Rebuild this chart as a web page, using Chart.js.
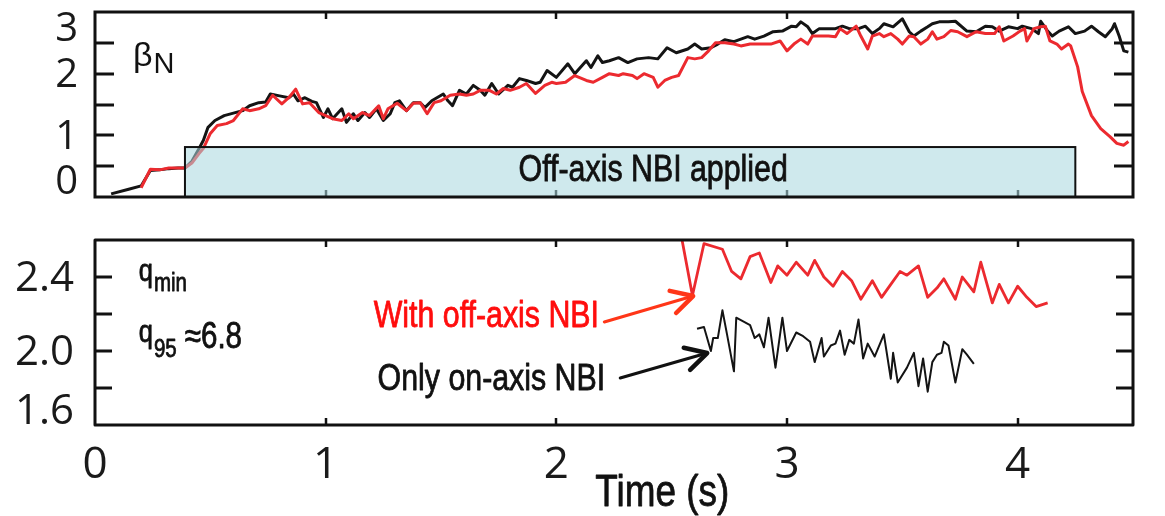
<!DOCTYPE html>
<html lang="en">
<head>
<meta charset="UTF-8">
<title>beta_N and q_min vs time</title>
<script src="https://cdn.jsdelivr.net/npm/chart.js@4.4.1/dist/chart.umd.min.js"></script>
<style>
    body { margin: 0; background: #fff; }
    #wrap { position: relative; width: 1165px; height: 516px; }
    canvas { position: absolute; left: 0; }
    #topChart { top: 0; }
    #botChart { top: 210px; }
</style>
</head>
<body>
<div id="wrap">
    <canvas id="topChart" width="1165" height="210"></canvas>
    <canvas id="botChart" width="1165" height="306"></canvas>
</div>
<script>

// time axis (s)
var X_MIN = 0, X_MAX = 4.5
var X_TICKS = [0, 1, 2, 3, 4]

// ---------- beta_N panel ----------
var BETA_MIN = 0, BETA_MAX = 3
var BETA_LABELS = [0, 1, 2, 3]
var BETA_MARKS = [0.5, 1, 1.5, 2, 2.5]

// only on-axis NBI (black)
var tBlack = [0.07, 0.15, 0.20, 0.24, 0.28, 0.32, 0.36, 0.39, 0.42, 0.45, 0.47, 0.49, 0.52, 0.56, 0.60, 0.64, 0.67, 0.71, 0.74, 0.76,
    0.80, 0.84, 0.86, 0.88, 0.91, 0.94, 0.96, 0.99, 1.01, 1.03, 1.07, 1.09, 1.12, 1.14, 1.17, 1.19, 1.22, 1.25, 1.28, 1.30,
    1.32, 1.35, 1.38, 1.41, 1.43, 1.46, 1.51, 1.53, 1.55, 1.58, 1.61, 1.64, 1.67, 1.69, 1.72, 1.75, 1.79, 1.81, 1.84, 1.87,
    1.91, 1.93, 1.96, 2.00, 2.05, 2.08, 2.13, 2.15, 2.18, 2.20, 2.23, 2.27, 2.31, 2.35, 2.40, 2.44, 2.48, 2.52, 2.57, 2.60,
    2.63, 2.67, 2.70, 2.73, 2.77, 2.80, 2.83, 2.86, 2.90, 2.94, 2.98, 3.02, 3.04, 3.06, 3.09, 3.11, 3.14, 3.17, 3.21, 3.24,
    3.27, 3.31, 3.34, 3.37, 3.40, 3.42, 3.46, 3.50, 3.53, 3.55, 3.58, 3.61, 3.63, 3.66, 3.70, 3.73, 3.78, 3.82, 3.86, 3.89,
    3.92, 3.96, 4.00, 4.02, 4.06, 4.09, 4.10, 4.13, 4.15, 4.18, 4.22, 4.25, 4.29, 4.32, 4.35, 4.38, 4.41, 4.42, 4.44, 4.46, 4.48]
var betaBlack = [0.05, 0.13, 0.18, 0.43, 0.44, 0.46, 0.47, 0.47, 0.58, 0.78, 0.92, 1.13, 1.24, 1.32, 1.36, 1.40, 1.48, 1.53, 1.54, 1.67,
    1.64, 1.61, 1.67, 1.56, 1.61, 1.55, 1.53, 1.29, 1.43, 1.27, 1.43, 1.21, 1.35, 1.24, 1.37, 1.29, 1.43, 1.24, 1.35, 1.53,
    1.56, 1.40, 1.53, 1.53, 1.45, 1.56, 1.67, 1.56, 1.48, 1.73, 1.67, 1.81, 1.73, 1.65, 1.84, 1.67, 1.81, 1.78, 1.92, 1.89,
    1.84, 1.86, 2.05, 1.94, 2.16, 2.00, 2.21, 2.10, 2.29, 2.18, 2.21, 2.26, 2.18, 2.24, 2.26, 2.24, 2.42, 2.34, 2.40, 2.48,
    2.40, 2.42, 2.48, 2.55, 2.52, 2.56, 2.60, 2.56, 2.61, 2.68, 2.69, 2.77, 2.76, 2.84, 2.76, 2.65, 2.73, 2.73, 2.73, 2.77,
    2.73, 2.73, 2.77, 2.65, 2.73, 2.81, 2.76, 2.89, 2.68, 2.61, 2.69, 2.76, 2.81, 2.84, 2.84, 2.85, 2.69, 2.68, 2.77, 2.76,
    2.69, 2.76, 2.73, 2.77, 2.73, 2.65, 2.85, 2.69, 2.61, 2.69, 2.76, 2.65, 2.69, 2.77, 2.68, 2.60, 2.73, 2.81, 2.61, 2.37, 2.35]

// with off-axis NBI (red)
var tRed = [0.20, 0.24, 0.28, 0.32, 0.35, 0.39, 0.42, 0.45, 0.47, 0.50, 0.53, 0.57, 0.60, 0.64, 0.67, 0.71, 0.74, 0.77, 0.81, 0.84,
    0.87, 0.90, 0.93, 0.97, 1.00, 1.03, 1.07, 1.10, 1.12, 1.16, 1.19, 1.23, 1.25, 1.27, 1.31, 1.35, 1.38, 1.41, 1.44, 1.47,
    1.50, 1.54, 1.58, 1.61, 1.64, 1.67, 1.71, 1.74, 1.77, 1.80, 1.84, 1.87, 1.91, 1.95, 1.98, 2.00, 2.04, 2.08, 2.13, 2.16,
    2.20, 2.23, 2.27, 2.29, 2.33, 2.35, 2.38, 2.42, 2.44, 2.47, 2.50, 2.53, 2.57, 2.60, 2.63, 2.66, 2.69, 2.73, 2.77, 2.80,
    2.84, 2.88, 2.93, 2.97, 3.00, 3.03, 3.06, 3.09, 3.11, 3.15, 3.18, 3.21, 3.23, 3.26, 3.30, 3.32, 3.35, 3.37, 3.40, 3.42,
    3.45, 3.48, 3.50, 3.53, 3.55, 3.58, 3.61, 3.63, 3.65, 3.68, 3.71, 3.74, 3.78, 3.82, 3.86, 3.90, 3.92, 3.94, 3.98, 4.01,
    4.03, 4.04, 4.07, 4.10, 4.12, 4.14, 4.17, 4.19, 4.22, 4.23, 4.26, 4.28, 4.32, 4.36, 4.40, 4.43, 4.46, 4.48]
var betaRed = [0.15, 0.45, 0.44, 0.47, 0.47, 0.47, 0.55, 0.70, 0.79, 1.03, 1.16, 1.19, 1.24, 1.43, 1.40, 1.43, 1.48, 1.65, 1.51, 1.61,
    1.75, 1.51, 1.53, 1.37, 1.32, 1.27, 1.24, 1.35, 1.27, 1.37, 1.32, 1.48, 1.27, 1.43, 1.52, 1.40, 1.52, 1.53, 1.35, 1.53,
    1.56, 1.65, 1.67, 1.65, 1.67, 1.73, 1.73, 1.67, 1.76, 1.73, 1.78, 1.84, 1.68, 1.81, 1.86, 1.84, 1.86, 1.97, 1.89, 1.86,
    1.94, 2.00, 1.97, 2.00, 1.97, 1.92, 2.00, 1.94, 1.78, 1.89, 1.94, 1.97, 2.26, 2.24, 2.26, 2.37, 2.50, 2.50, 2.48, 2.45,
    2.48, 2.48, 2.48, 2.53, 2.37, 2.48, 2.56, 2.48, 2.61, 2.61, 2.61, 2.60, 2.73, 2.65, 2.77, 2.61, 2.40, 2.61, 2.65, 2.60,
    2.65, 2.56, 2.48, 2.61, 2.60, 2.48, 2.56, 2.68, 2.56, 2.60, 2.70, 2.68, 2.60, 2.68, 2.65, 2.65, 2.76, 2.53, 2.61, 2.69,
    2.73, 2.53, 2.73, 2.76, 2.77, 2.53, 2.48, 2.40, 2.48, 2.45, 2.11, 1.71, 1.32, 1.11, 0.98, 0.87, 0.84, 0.90]

// off-axis NBI window
var nbiStart = 0.39, nbiEnd = 4.25, nbiTop = 0.81

// ---------- q_min panel ----------
var Q_MIN = 1.6, Q_MAX = 2.6
var Q_LABELS = [1.6, 2.0, 2.4]
var Q_MARKS = [1.8, 2.0, 2.2, 2.4]

var tqRed = [2.53, 2.59, 2.64, 2.72, 2.76, 2.80, 2.84, 2.88, 2.93, 2.96, 3.00, 3.04, 3.09, 3.12, 3.16, 3.20, 3.24, 3.28, 3.32, 3.37,
    3.41, 3.45, 3.49, 3.52, 3.57, 3.61, 3.65, 3.68, 3.73, 3.76, 3.81, 3.84, 3.89, 3.92, 3.96, 4.00, 4.04, 4.08, 4.13]
var qRed = [2.70, 2.30, 2.58, 2.55, 2.43, 2.39, 2.51, 2.53, 2.37, 2.46, 2.41, 2.48, 2.41, 2.49, 2.40, 2.35, 2.43, 2.38, 2.28, 2.38,
    2.29, 2.36, 2.43, 2.41, 2.46, 2.29, 2.34, 2.39, 2.28, 2.40, 2.32, 2.48, 2.26, 2.36, 2.26, 2.35, 2.29, 2.24, 2.26]

var tqBlack = [2.61, 2.64, 2.67, 2.68, 2.70, 2.72, 2.74, 2.77, 2.78, 2.81, 2.84, 2.86, 2.88, 2.90, 2.92, 2.95, 2.98, 3.00, 3.04, 3.07,
    3.10, 3.12, 3.15, 3.16, 3.19, 3.21, 3.23, 3.25, 3.27, 3.29, 3.31, 3.33, 3.35, 3.38, 3.42, 3.45, 3.46, 3.48, 3.52, 3.55,
    3.57, 3.59, 3.61, 3.63, 3.65, 3.67, 3.68, 3.70, 3.73, 3.76, 3.78, 3.81]
var qBlack = [2.12, 2.13, 2.00, 2.07, 2.07, 2.22, 2.09, 1.89, 2.18, 2.16, 2.14, 2.07, 2.09, 2.02, 2.18, 1.91, 2.18, 2.00, 2.10, 2.08,
    2.05, 1.94, 2.07, 1.97, 2.03, 2.04, 2.11, 1.98, 2.06, 2.04, 2.17, 1.96, 2.04, 1.97, 2.09, 1.85, 1.99, 1.83, 1.91, 1.99,
    1.81, 1.96, 1.78, 1.94, 1.98, 1.99, 2.05, 2.03, 1.83, 2.01, 1.98, 1.93]

var RED = '#ec2a2f'
var BLACK = '#141414'
var SANS = '"Liberation Sans", Arial, sans-serif'
var NUMS = '"Open Sans", "DejaVu Sans", sans-serif'
var SQUEEZE = 0.82   // no narrow face installed, so squeeze the regular one

function pts(xs, ys) {
    return xs.map(function (x, i) { return { x: x, y: ys[i] } })
}

function seg(ctx, x0, y0, x1, y1) {
    ctx.beginPath(); ctx.moveTo(x0, y0); ctx.lineTo(x1, y1); ctx.stroke()
}

// condensed text (slightly heavier), returns drawn width
function narrow(ctx, text, x, y, size, align) {
    ctx.save()
    ctx.font = size + 'px ' + SANS
    ctx.textAlign = align || 'left'
    ctx.translate(x, y)
    ctx.scale(SQUEEZE, 1)
    ctx.fillText(text, 0, 0)
    ctx.strokeStyle = ctx.fillStyle
    ctx.lineWidth = 0.8
    ctx.strokeText(text, 0, 0)
    var w = ctx.measureText(text).width * SQUEEZE
    ctx.restore()
    return w
}

function arrow(ctx, x0, y0, x1, y1, color) {
    var ang = Math.atan2(y1 - y0, x1 - x0), L = 24, s = 0.5
    ctx.strokeStyle = color
    ctx.lineCap = 'round'; ctx.lineJoin = 'round'
    ctx.lineWidth = 3
    seg(ctx, x0, y0, x1, y1)
    ctx.lineWidth = 4.5
    ctx.beginPath()
    ctx.moveTo(x1 - L * Math.cos(ang - s), y1 - L * Math.sin(ang - s))
    ctx.lineTo(x1, y1)
    ctx.lineTo(x1 - L * Math.cos(ang + s), y1 - L * Math.sin(ang + s))
    ctx.stroke()
}

// frame, inward ticks, y labels and annotations for one panel
function makeDecor(cfg) {
    return {
        id: 'decor',
        afterDatasetsDraw: function (chart) {
            var ctx = chart.ctx, a = chart.chartArea
            var xs = chart.scales.x, ys = chart.scales.y
            ctx.save()
            ctx.strokeStyle = '#111'
            ctx.lineWidth = 3
            cfg.yMarks.forEach(function (v) {
                var y = Math.round(ys.getPixelForValue(v))
                seg(ctx, a.left, y, a.left + cfg.tickLen, y)
                seg(ctx, a.right - cfg.tickLen, y, a.right, y)
            })
            ctx.lineWidth = 2.5
            X_TICKS.forEach(function (v) {
                if (v <= X_MIN) return
                var x = Math.round(xs.getPixelForValue(v))
                seg(ctx, x, a.top, x, a.top + 7)
                seg(ctx, x, a.bottom - 7, x, a.bottom)
            })

            if (cfg.extra) cfg.extra(ctx, xs, ys)

            ctx.strokeStyle = '#111'
            ctx.lineWidth = 3
            ctx.strokeRect(a.left, a.top, a.right - a.left, a.bottom - a.top)

            // tick labels kept inside the frame height
            ctx.fillStyle = '#1a1a1a'
            ctx.font = cfg.labelFont
            ctx.textAlign = 'right'
            ctx.textBaseline = 'middle'
            cfg.yLabels.forEach(function (v) {
                var y = ys.getPixelForValue(v)
                y = Math.min(Math.max(y, a.top + cfg.labelHalf), a.bottom - cfg.labelHalf)
                ctx.fillText(cfg.fmt(v), a.left - cfg.labelGap, y + 2)
            })
            ctx.restore()
        }
    }
}

function baseOptions(yMin, yMax, padding) {
    return {
        responsive: false,
        animation: false,
        events: [],
        layout: { padding: padding },
        plugins: { legend: { display: false }, tooltip: { enabled: false } },
        elements: { point: { radius: 0 }, line: { tension: 0 } },
        scales: {
            x: { type: 'linear', min: X_MIN, max: X_MAX, display: false },
            y: {
                type: 'linear', min: yMin, max: yMax,
                ticks: { display: false },
                grid: { display: false },
                border: { display: false },
                afterFit: function (s) { s.width = 95 }
            }
        }
    }
}

/////////////////////////    beta_N    //////////////////////////

var topOpts = baseOptions(BETA_MIN, BETA_MAX, { left: 0, right: 32, top: 12, bottom: 13 })

new Chart(document.getElementById('topChart'), {
    type: 'line',
    data: {
        datasets: [
            { data: pts(tRed, betaRed), borderColor: RED, borderWidth: 3, borderJoinStyle: 'round' },
            { data: pts(tBlack, betaBlack), borderColor: BLACK, borderWidth: 3, borderJoinStyle: 'round' }
        ]
    },
    options: topOpts,
    plugins: [makeDecor({
        yMarks: BETA_MARKS, yLabels: BETA_LABELS, tickLen: 19,
        labelFont: '40px ' + NUMS, labelGap: 17, labelHalf: 16,
        fmt: function (v) { return String(v) },
        extra: function (ctx, xs, ys) {
            var x0 = xs.getPixelForValue(nbiStart), x1 = xs.getPixelForValue(nbiEnd)
            var y0 = ys.getPixelForValue(nbiTop), y1 = ys.getPixelForValue(BETA_MIN)
            ctx.fillStyle = 'rgba(170, 215, 223, 0.56)'
            ctx.fillRect(x0, y0, x1 - x0, y1 - y0)
            ctx.strokeStyle = '#111'
            ctx.lineWidth = 2
            ctx.strokeRect(x0, y0, x1 - x0, y1 - y0)

            ctx.fillStyle = '#111'
            ctx.textBaseline = 'middle'
            narrow(ctx, 'Off-axis NBI applied', xs.getPixelForValue(2.42), ys.getPixelForValue(0.42), 37, 'center')

            ctx.textBaseline = 'alphabetic'
            var bx = xs.getPixelForValue(0.165), by = ys.getPixelForValue(2.13)
            ctx.font = '34px ' + SANS
            ctx.textAlign = 'left'
            ctx.fillText('β', bx, by)
            ctx.font = '29px ' + SANS
            ctx.fillText('N', bx + ctx.measureText('β').width * 34 / 29 + 1, by + 7)
        }
    })]
})

/////////////////////////    q_min    //////////////////////////

var botOpts = baseOptions(Q_MIN, Q_MAX, { left: 0, right: 32, top: 30, bottom: 0 })
botOpts.scales.x = {
    type: 'linear', min: X_MIN, max: X_MAX, display: true,
    grid: { display: false, drawTicks: false },
    border: { display: false },
    ticks: { font: { family: 'Open Sans', size: 44 }, color: '#1a1a1a', padding: 14, maxRotation: 0, autoSkip: false },
    afterBuildTicks: function (s) { s.ticks = X_TICKS.map(function (v) { return { value: v } }) },
    afterFit: function (s) { s.height = 91 }
}

new Chart(document.getElementById('botChart'), {
    type: 'line',
    data: {
        datasets: [
            { data: pts(tqRed, qRed), borderColor: RED, borderWidth: 2.8, borderJoinStyle: 'round' },
            { data: pts(tqBlack, qBlack), borderColor: BLACK, borderWidth: 2, borderJoinStyle: 'round' }
        ]
    },
    options: botOpts,
    plugins: [makeDecor({
        yMarks: Q_MARKS, yLabels: Q_LABELS, tickLen: 17,
        labelFont: '42px ' + NUMS, labelGap: 21, labelHalf: 15,
        fmt: function (v) { return v.toFixed(1) },
        extra: function (ctx, xs, ys) {
            function px(t) { return xs.getPixelForValue(t) }
            function py(q) { return ys.getPixelForValue(q) }

            arrow(ctx, px(2.208), py(2.157), px(2.593), py(2.297), '#ff3618')
            arrow(ctx, px(2.277), py(1.854), px(2.654), py(1.989), '#111')

            ctx.textBaseline = 'alphabetic'
            ctx.fillStyle = '#ff0d0d'
            narrow(ctx, 'With off-axis NBI', px(1.208), py(2.130), 37)
            ctx.fillStyle = '#111'
            narrow(ctx, 'Only on-axis NBI', px(1.225), py(1.789), 37)

            var qx = px(0.19)
            var w = narrow(ctx, 'q', qx, py(2.376), 31)
            narrow(ctx, 'min', qx + w + 1, py(2.376) + 10, 25)
            w = narrow(ctx, 'q', qx, py(2.049), 31)
            var w2 = narrow(ctx, '95', qx + w + 1, py(2.049) + 15, 25)
            narrow(ctx, '≈6.8', qx + w + w2 + 9, py(2.049) + 6, 36)

            narrow(ctx, 'Time (s)', px(2.169), py(1.162), 45)
        }
    })]
})

</script>
</body>
</html>
